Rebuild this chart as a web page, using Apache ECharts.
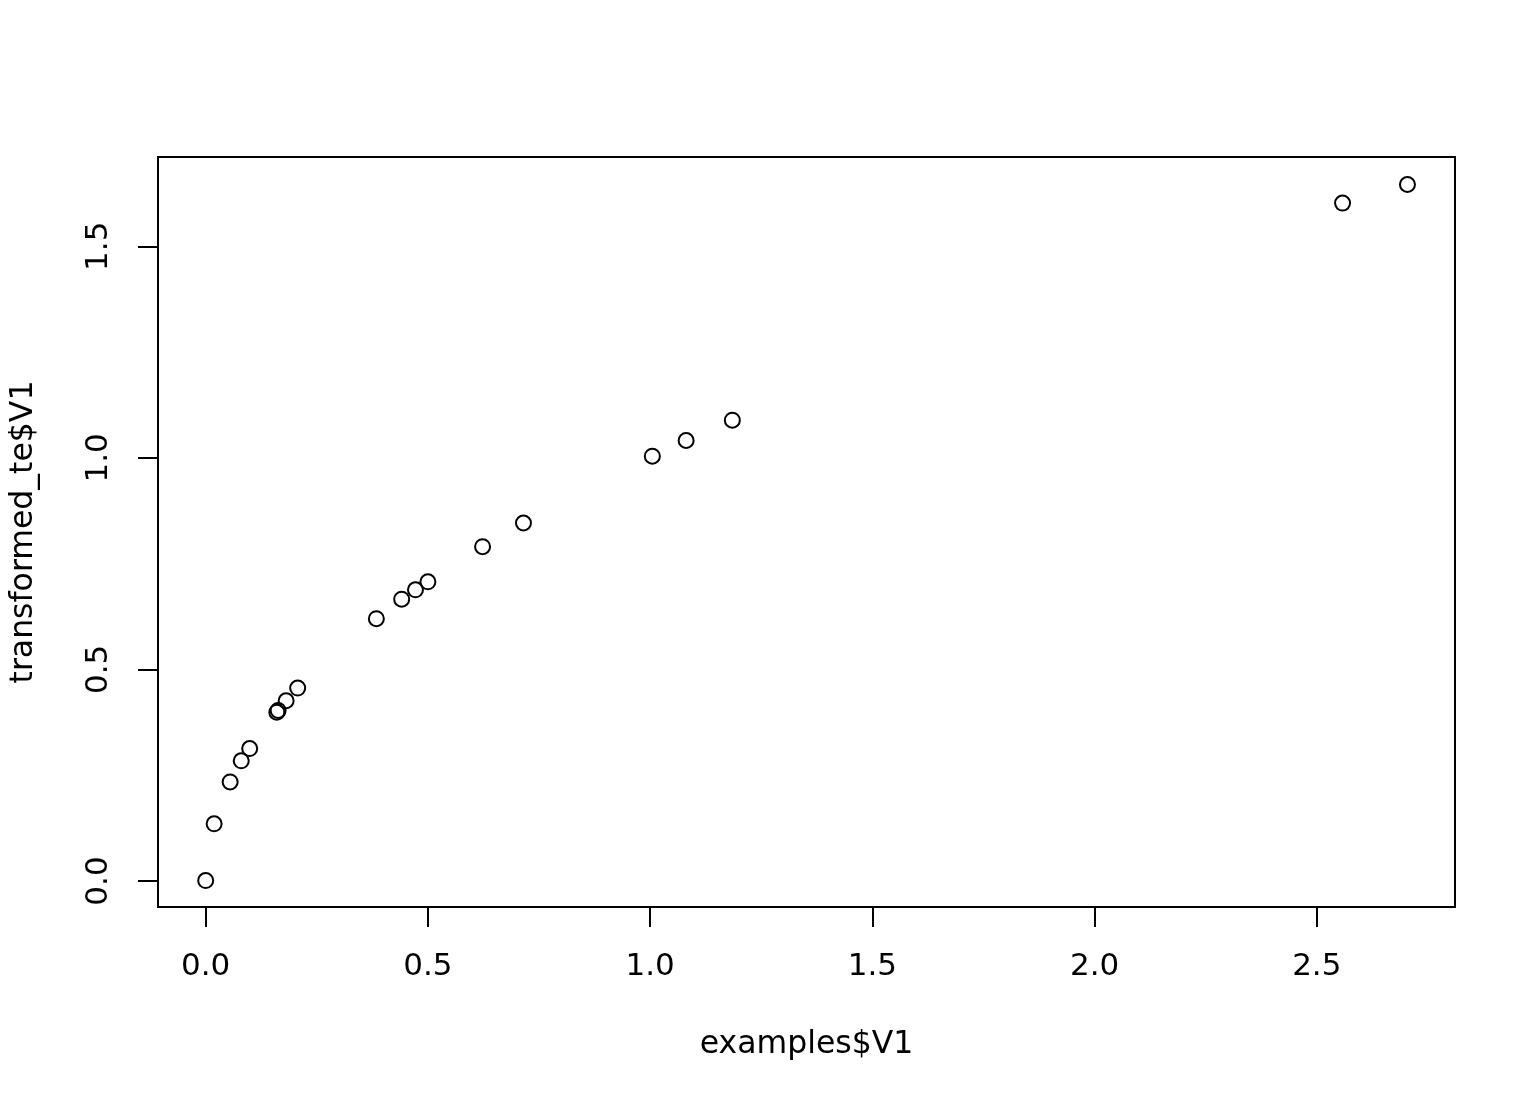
<!DOCTYPE html>
<html>
<head>
<meta charset="utf-8">
<script src="https://cdn.jsdelivr.net/npm/echarts@6/dist/echarts.min.js"></script>
<style>
html,body{margin:0;padding:0;background:#fff;}
#chart{width:1536px;height:1104px;}
</style>
</head>
<body>
<div id="chart"></div>
<script>
const xValues = [0.000, 0.019, 0.055, 0.080, 0.099, 0.160, 0.163, 0.181, 0.207, 0.384,
                 0.441, 0.472, 0.500, 0.623, 0.715, 1.005, 1.081, 1.185, 2.558, 2.704];
const yValues = [0.001, 0.135, 0.234, 0.284, 0.313, 0.399, 0.403, 0.426, 0.456, 0.620,
                 0.666, 0.688, 0.707, 0.790, 0.846, 1.004, 1.041, 1.089, 1.602, 1.646];
const xTicks = [0, 0.5, 1, 1.5, 2, 2.5];
const yTicks = [0, 0.5, 1, 1.5];
const xTitle = 'examples$V1';
const yTitle = 'transformed_te$V1';

const FONT = 'DejaVu Sans';
const chart = echarts.init(document.getElementById('chart'), null, {renderer: 'canvas'});
chart.setOption({
  animation: false,
  backgroundColor: '#ffffff',
  grid: {left: 157, right: 81, top: 157, bottom: 197, show: true,
         borderColor: '#000', borderWidth: 2, backgroundColor: 'transparent'},
  xAxis: {
    type: 'value', min: -0.1073, max: 2.811,
    name: xTitle, nameLocation: 'middle', nameGap: 122,
    nameTextStyle: {fontFamily: FONT, fontSize: 31.5, color: '#000'},
    axisLine: {show: false, onZero: false},
    splitLine: {show: false},
    axisTick: {show: true, inside: false, length: 20, customValues: xTicks,
               lineStyle: {color: '#000', width: 2}},
    axisLabel: {show: true, customValues: xTicks, margin: 44,
                fontFamily: FONT, fontSize: 31, color: '#000',
                formatter: v => v.toFixed(1)}
  },
  yAxis: {
    type: 'value', min: -0.0615, max: 1.711,
    name: yTitle, nameLocation: 'middle', nameGap: 118, nameRotate: 90,
    nameTextStyle: {fontFamily: FONT, fontSize: 31.5, color: '#000'},
    axisLine: {show: false, onZero: false},
    splitLine: {show: false},
    axisTick: {show: true, inside: false, length: 20, customValues: yTicks,
               lineStyle: {color: '#000', width: 2}},
    axisLabel: {show: true, customValues: yTicks, margin: 44, rotate: 90,
                fontFamily: FONT, fontSize: 31, color: '#000',
                formatter: v => v.toFixed(1)}
  },
  series: [{
    type: 'scatter',
    data: xValues.map((x, i) => [x, yValues[i]]),
    symbol: 'circle',
    symbolSize: 15,
    itemStyle: {color: 'transparent', borderColor: '#000', borderWidth: 2, opacity: 1},
    emphasis: {disabled: true}
  }]
});
</script>
</body>
</html>
